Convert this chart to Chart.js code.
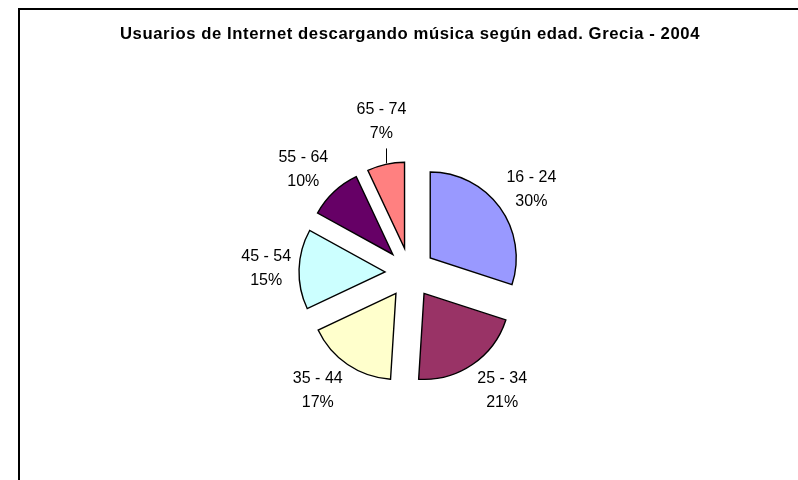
<!DOCTYPE html>
<html>
<head>
<meta charset="utf-8">
<script src="https://cdn.jsdelivr.net/npm/chart.js@4/dist/chart.umd.min.js"></script>
<style>
  html, body { margin: 0; padding: 0; background: #fff; overflow: hidden; }
  #frame {
    position: absolute; left: 18px; top: 8px; width: 900px; height: 600px;
    border-top: 2px solid #000; border-left: 2px solid #000;
  }
  #c { position: absolute; left: 0; top: 0; }
</style>
</head>
<body>
<div id="frame"></div>
<canvas id="c" width="798" height="480"></canvas>
<script>
// Age groups and share of internet users downloading music (%)
const ageGroups = ['16 - 24', '25 - 34', '35 - 44', '45 - 54', '55 - 64', '65 - 74'];
const sharePct = [30, 21, 17, 15, 10, 7];
const sliceColors = ['#9999FF', '#993366', '#FFFFCC', '#CCFFFF', '#660066', '#FF8080'];
const chartTitle = 'Usuarios de Internet descargando música según edad. Grecia - 2004';
// labels pulled further out (px) and tied back to their slice with a connector
const labelPull = { '65 - 74': 13 };

const EXPLODE = 25;      // how far each slice is pulled out
const RADIUS = 86;       // pie radius in px
const LABEL_GAP = 7;     // space between exploded rim and label anchor
const LINE_H = 24;       // label line height
const FONT_FAMILY = '"Liberation Sans", Arial, Helvetica, sans-serif';

// Slightly tracked-out title lettering
const titleTracking = {
  id: 'titleTracking',
  beforeDraw(chart) { chart.ctx.letterSpacing = '0.6px'; },
  beforeDatasetsDraw(chart) { chart.ctx.letterSpacing = '0px'; }
};

// Draw every slice shifted outward along its mid angle
const explodedSlices = {
  id: 'explodedSlices',
  beforeDatasetDraw(chart, args) {
    const ctx = chart.ctx;
    args.meta.data.forEach(arc => {
      const mid = (arc.startAngle + arc.endAngle) / 2;
      ctx.save();
      ctx.translate(Math.cos(mid) * EXPLODE, Math.sin(mid) * EXPLODE);
      arc.draw(ctx);
      ctx.restore();
    });
    return false;
  }
};

// Category name and percentage outside each slice
const sliceLabels = {
  id: 'sliceLabels',
  afterDatasetsDraw(chart) {
    const ctx = chart.ctx;
    const meta = chart.getDatasetMeta(0);
    const values = chart.data.datasets[0].data;
    ctx.save();
    ctx.font = '16px ' + FONT_FAMILY;
    ctx.fillStyle = '#000';
    ctx.textAlign = 'center';
    ctx.textBaseline = 'middle';
    meta.data.forEach((arc, i) => {
      const name = chart.data.labels[i];
      const lines = [name, values[i] + '%'];
      const w = Math.max(...lines.map(t => ctx.measureText(t).width)) + 2;
      const h = lines.length * LINE_H;
      const mid = (arc.startAngle + arc.endAngle) / 2;
      const dx = Math.cos(mid), dy = Math.sin(mid);
      const rim = arc.outerRadius + EXPLODE;
      const pull = labelPull[name] || 0;
      const dist = rim + LABEL_GAP + pull;
      // anchor on the rim, box pushed sideways once the slice points sideways
      const side = Math.min(1, Math.max(0, (Math.abs(dx) - 0.25) / 0.3)) * Math.sign(dx);
      const lx = arc.x + dx * dist + side * w / 2;
      const ly = arc.y + dy * dist + dy * h / 2;
      lines.forEach((t, k) => {
        ctx.fillText(t, lx, ly + (k - (lines.length - 1) / 2) * LINE_H);
      });
      if (pull) {
        const px = arc.x + dx * rim, py = arc.y + dy * rim;
        const qx = Math.min(Math.max(px, lx - w / 2), lx + w / 2);
        const qy = Math.min(Math.max(py, ly - h / 2 - 3), ly + h / 2 + 3);
        ctx.beginPath();
        ctx.strokeStyle = '#000';
        ctx.lineWidth = 1;
        ctx.moveTo(Math.round(px) + 0.5, py - 1);
        ctx.lineTo(Math.round(qx) + 0.5, qy);
        ctx.stroke();
      }
    });
    ctx.restore();
  }
};

new Chart(document.getElementById('c'), {
  type: 'pie',
  data: {
    labels: ageGroups,
    datasets: [{
      data: sharePct,
      backgroundColor: sliceColors,
      borderColor: '#000',
      borderWidth: 1.4,
      borderJoinStyle: 'miter'
    }]
  },
  options: {
    responsive: false,
    animation: false,
    radius: RADIUS,
    events: [],
    layout: { padding: { left: 120, right: 98, top: 18, bottom: 0 } },
    plugins: {
      legend: { display: false },
      tooltip: { enabled: false },
      title: {
        display: true,
        text: chartTitle,
        color: '#000',
        font: { family: FONT_FAMILY, size: 17, weight: 'bold', lineHeight: 1.2 },
        padding: { top: 6, bottom: 21 }
      }
    }
  },
  plugins: [titleTracking, explodedSlices, sliceLabels]
});
</script>
</body>
</html>
